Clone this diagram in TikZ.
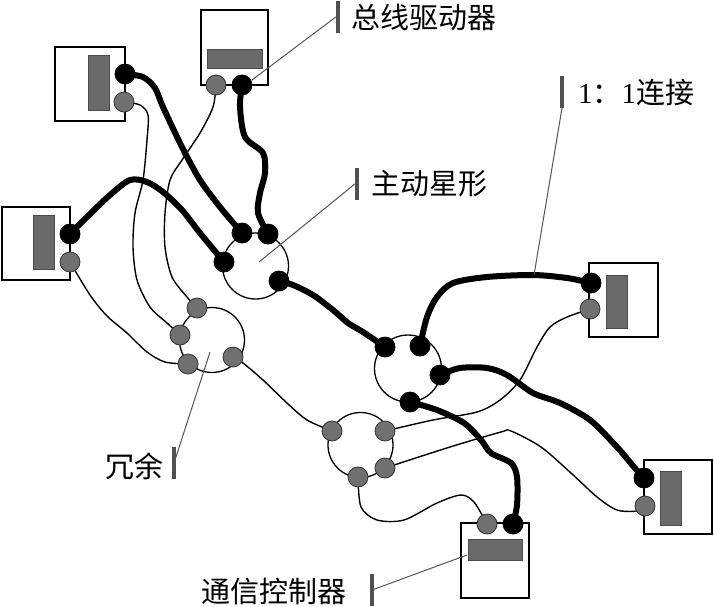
\documentclass[tikz,border=0pt]{standalone}
\usepackage{fontspec}
\setmainfont{Liberation Serif}
\newfontfamily\cjk{Noto Sans CJK SC}
\definecolor{chipc}{HTML}{6A6A6A}
\definecolor{portc}{HTML}{707070}
\definecolor{barc}{HTML}{505050}
\definecolor{ptrc}{HTML}{555555}
\pgfdeclarelayer{bg}
\pgfdeclarelayer{wires}
\pgfsetlayers{bg,wires,main}
\begin{document}
\begin{tikzpicture}[x=1pt,y=-1pt,
  devbox/.style={draw=black,line width=1.4pt,inner sep=0pt,rectangle},
  chip/.style={fill=chipc,draw=black!70,line width=0.6pt,inner sep=0pt,rectangle},
  starc/.style={draw=black,line width=1.3pt,circle,inner sep=0pt,minimum size=65pt},
  bport/.style={circle,fill=black,draw=black,line width=0.8pt,inner sep=0pt,minimum size=20pt},
  gport/.style={circle,fill=portc,draw=black!80,line width=0.8pt,inner sep=0pt,minimum size=20pt},
  lbar/.style={fill=barc,inner sep=0pt,minimum width=4pt,minimum height=32pt},
  lbl/.style={font=\cjk\fontsize{29}{32}\selectfont,inner sep=0pt},
  ptr/.style={draw=ptrc,line width=1pt},
  thickw/.style={line width=6pt,line cap=round,line join=round},
  thinw/.style={line width=1.4pt,line cap=round,line join=round}]
\begin{pgfonlayer}{bg}
\fill[white] (0,0) rectangle (714,606);
\end{pgfonlayer}
\useasboundingbox (0,0) rectangle (714,606);
% devices
\node[devbox,minimum width=70pt,minimum height=74pt] (A) at (90,84) {};
\node[devbox,minimum width=67pt,minimum height=75pt] (B) at (234.5,47.5) {};
\node[devbox,minimum width=68pt,minimum height=73pt] (C) at (36,243.5) {};
\node[devbox,minimum width=69pt,minimum height=74pt] (D) at (623.5,300) {};
\node[devbox,minimum width=68pt,minimum height=74pt] (E) at (678,497) {};
\node[devbox,minimum width=68pt,minimum height=75pt] (F) at (495,560.5) {};
\node[chip,minimum width=21pt,minimum height=55pt] (Ac) at (98.5,82.5) {};
\node[chip,minimum width=55pt,minimum height=19pt] (Bc) at (234.5,58.5) {};
\node[chip,minimum width=21pt,minimum height=54pt] (Cc) at (43.5,242) {};
\node[chip,minimum width=21pt,minimum height=53pt] (Dc) at (616.5,301.5) {};
\node[chip,minimum width=21pt,minimum height=54pt] (Ec) at (670.5,498) {};
\node[chip,minimum width=54pt,minimum height=21pt] (Fc) at (495,549.5) {};
% stars
\node[starc,minimum size=66pt] (S1) at (255.5,266) {};
\node[starc] (S2) at (212,340) {};
\node[starc,minimum size=67pt] (S3) at (408,368.5) {};
\node[starc] (S4) at (360.5,445) {};
% ports
\node[bport] (ab) at (125,74) {};
\node[gport] (ag) at (124,102) {};
\node[gport] (bg) at (216,85) {};
\node[bport] (bb) at (242,85) {};
\node[bport] (cb) at (70,234) {};
\node[gport] (cg) at (70,262) {};
\node[bport] (db) at (591,283) {};
\node[gport] (dg) at (590,309) {};
\node[bport] (eb) at (644,478) {};
\node[gport] (eg) at (645,506) {};
\node[gport] (fg) at (487,524) {};
\node[bport] (fb) at (513,524) {};
\node[bport] (s1a) at (242,233) {};
\node[bport] (s1b) at (268,234) {};
\node[bport] (s1c) at (224,262) {};
\node[bport] (s1d) at (279,281) {};
\node[gport] (s2a) at (197,308) {};
\node[gport] (s2b) at (180,335) {};
\node[gport] (s2c) at (188,364) {};
\node[gport] (s2d) at (233,357) {};
\node[bport] (s3a) at (385,347) {};
\node[bport] (s3b) at (420,346) {};
\node[bport] (s3c) at (440,375) {};
\node[bport] (s3d) at (410,402) {};
\node[gport] (s4a) at (332,431) {};
\node[gport] (s4b) at (385,431) {};
\node[gport] (s4c) at (385,468) {};
\node[gport] (s4d) at (358,477) {};
% wires
\begin{pgfonlayer}{wires}
\draw[thickw] plot[smooth] coordinates {(ab.center) (143,77) (155,88) (163,107) (182,147) (200,180) (220,207) (s1a.center)};
\draw[thickw] plot[smooth] coordinates {(cb.center) (87,217) (110,195) (130,180) (147,182) (163,192) (182,210) (200,233) (s1c.center)};
\draw[thickw] plot[smooth] coordinates {(bb.center) (240,107) (245,137) (263,153) (265,173) (260,193) (258,213) (s1b.center)};
\draw[thickw] plot[smooth] coordinates {(s1d.center) (293,285) (313,295) (333,310) (348,323) (363,332) (s3a.center)};
\draw[thickw] plot[smooth] coordinates {(s3b.center) (427,317) (437,297) (453,283) (487,277) (533,275) (567,278) (db.center)};
\draw[thickw] plot[smooth] coordinates {(s3c.center) (460,368) (487,368) (507,375) (533,393) (560,403) (590,420) (617,447) (634,467) (eb.center)};
\draw[thickw] plot[smooth] coordinates {(s3d.center) (437,410) (464,423) (481,440) (491,453) (511,463) (517,477) (517,505) (fb.center)};
\draw[thinw] plot[smooth] coordinates {(ag.center) (140,105) (148,115) (147,140) (143,180) (135,213) (133,247) (137,280) (150,307) (167,323) (s2b.center)};
\draw[thinw] plot[smooth] coordinates {(bg.center) (213,107) (200,133) (182,160) (170,180) (165,213) (165,247) (172,277) (187,297) (s2a.center)};
\draw[thinw] plot[smooth] coordinates {(cg.center) (90,295) (107,316) (127,333) (147,352) (165,362) (s2c.center)};
\draw[thinw] plot[smooth] coordinates {(s2d.center) (243,363) (263,380) (287,403) (307,420) (s4a.center)};
\draw[thinw] plot[smooth] coordinates {(s4b.center) (433,420) (477,412) (500,400) (520,380) (537,347) (550,327) (567,317) (dg.center)};
\draw[thinw] plot[smooth] coordinates {(s4c.center) (450,447) (501,432) (511,431) (541,447) (571,473) (597,497) (617,510) (637,511) (eg.center)};
\draw[thinw] plot[smooth] coordinates {(s4d.center) (361,507) (377,520) (404,520) (437,503) (461,495) (474,502) (fg.center)};
\end{pgfonlayer}
% labels
\node[lbar] (busbar) at (338,17) {};
\node[lbl,anchor=west] (bustxt) at (351,17) {总线驱动器};
\coordinate (busptr) at (252,80);
\draw[ptr] (busbar.west) -- (busptr);
\node[lbar] (actbar) at (357,184) {};
\node[lbl,anchor=west] (acttxt) at (371,184) {主动星形};
\coordinate (actptr) at (259,262);
\draw[ptr] (actbar.west) -- (actptr);
\node[lbar] (onebar) at (562,92) {};
\node[lbl,anchor=west] (onetxt) at (578,93) {{\rmfamily 1}：{\rmfamily 1}连接};
\coordinate (oneptr) at (534,275);
\draw[ptr] (onebar.south) -- (oneptr);
\node[lbar] (redbar) at (174,463) {};
\node[lbl,anchor=east] (redtxt) at (164,466) {冗余};
\coordinate (redptr) at (210,352);
\draw[ptr] (redbar.center) -- (redptr);
\node[lbar] (combar) at (372,590) {};
\node[lbl,anchor=west] (comtxt) at (201,591) {通信控制器};
\coordinate (comptr) at (467,555);
\draw[ptr] (combar.center) -- (comptr);
\end{tikzpicture}
\end{document}
